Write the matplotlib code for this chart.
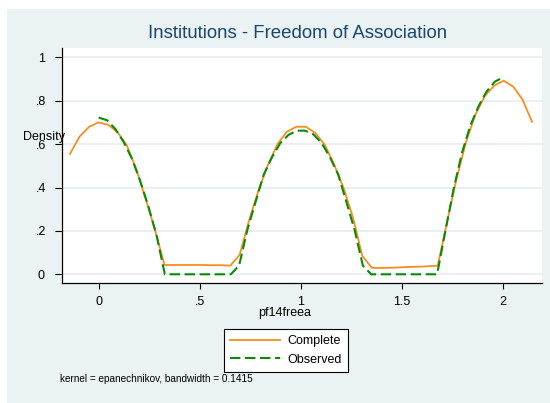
import matplotlib
matplotlib.use("Agg")
import matplotlib.pyplot as plt
from matplotlib.patches import Rectangle

# ---------------- data ----------------
complete_x = [-0.142, -0.095, -0.048, -0.002, 0.045, 0.092, 0.138, 0.185, 0.231, 0.278,
              0.325, 0.371, 0.418, 0.464, 0.511, 0.558, 0.604, 0.651, 0.697, 0.744,
              0.791, 0.837, 0.884, 0.930, 0.977, 1.024, 1.070, 1.117, 1.163, 1.210,
              1.257, 1.303, 1.350, 1.396, 1.443, 1.490, 1.536, 1.583, 1.629, 1.676,
              1.723, 1.769, 1.816, 1.862, 1.909, 1.956, 2.002, 2.049, 2.095, 2.142]
complete_y = [0.555, 0.634, 0.679, 0.700, 0.690, 0.656, 0.596, 0.487, 0.352, 0.205,
              0.043, 0.043, 0.043, 0.043, 0.043, 0.042, 0.042, 0.040, 0.090, 0.250,
              0.390, 0.505, 0.600, 0.657, 0.680, 0.680, 0.652, 0.598, 0.508, 0.400,
              0.262, 0.085, 0.030, 0.029, 0.030, 0.032, 0.034, 0.035, 0.037, 0.040,
              0.245, 0.440, 0.610, 0.735, 0.822, 0.870, 0.892, 0.865, 0.806, 0.703]

observed_x = [0.000, 0.041, 0.082, 0.122, 0.163, 0.204, 0.245, 0.286, 0.327, 0.367,
              0.408, 0.449, 0.490, 0.531, 0.571, 0.612, 0.653, 0.694, 0.735, 0.776,
              0.816, 0.857, 0.898, 0.939, 0.980, 1.020, 1.061, 1.102, 1.143, 1.184,
              1.224, 1.265, 1.306, 1.347, 1.388, 1.429, 1.469, 1.510, 1.551, 1.592,
              1.633, 1.673, 1.714, 1.755, 1.796, 1.837, 1.878, 1.918, 1.959, 2.000]
observed_y = [0.722, 0.710, 0.670, 0.612, 0.536, 0.433, 0.315, 0.180, 0.000, 0.000,
              0.000, 0.000, 0.000, 0.000, 0.000, 0.000, 0.000, 0.040, 0.205, 0.335,
              0.460, 0.540, 0.605, 0.643, 0.662, 0.662, 0.645, 0.605, 0.540, 0.460,
              0.335, 0.205, 0.040, 0.000, 0.000, 0.000, 0.000, 0.000, 0.000, 0.000,
              0.000, 0.000, 0.200, 0.395, 0.560, 0.685, 0.775, 0.843, 0.888, 0.908]

x_ticks = [0, 0.5, 1, 1.5, 2]
x_ticklabels = ["0", ".5", "1", "1.5", "2"]
y_ticks = [0, 0.2, 0.4, 0.6, 0.8, 1.0]
y_ticklabels = ["0", ".2", ".4", ".6", ".8", "1"]

series_labels = ["Complete", "Observed"]
title_text = "Institutions - Freedom of Association"
xlabel_text = "pf14freea"
ylabel_text = "Density"
note_text = "kernel = epanechnikov, bandwidth = 0.1415"

# ---------------- styling ----------------
plt.rcParams["font.family"] = ["Liberation Sans", "DejaVu Sans"]
W, H = 550, 403
BG = "#EAF2F3"
ORANGE = "#F88E1E"
GREEN = "#0A8A0A"
TITLE_C = "#1A476F"

fig = plt.figure(figsize=(W / 100, H / 100), dpi=100, facecolor="white")

# graph region background (white margin on top and left)
fig.patches.append(Rectangle((7 / W, 0), 1 - 7 / W, 1 - 9 / H,
                             transform=fig.transFigure, facecolor=BG,
                             edgecolor="none", zorder=-10))

ax = fig.add_axes([62 / W, 1 - 283 / H, (542 - 62) / W, (283 - 48) / H])
ax.set_zorder(1)
ax.set_facecolor("white")
ax.set_xlim(-0.1814, 2.1915)
ax.set_ylim(-0.0401, 1.0429)

for s in ["top", "right"]:
    ax.spines[s].set_visible(False)
for s in ["left", "bottom"]:
    ax.spines[s].set_color("black")
    ax.spines[s].set_linewidth(0.9)

ax.set_yticks(y_ticks)
ax.set_yticklabels(y_ticklabels)
ax.set_xticks(x_ticks)
ax.set_xticklabels(x_ticklabels)
ax.tick_params(axis="y", length=5, width=0.8, pad=10, labelsize=9)
ax.tick_params(axis="x", length=4.5, width=0.8, pad=5, labelsize=9)
for lab in ax.get_yticklabels():
    lab.set_horizontalalignment("center")

ax.grid(axis="y", color="#E6EEF0", linewidth=1.2)
ax.set_axisbelow(True)

l1, = ax.plot(complete_x, complete_y, color=ORANGE, lw=1.3, label=series_labels[0],
              solid_joinstyle="miter", zorder=3)
l2, = ax.plot(observed_x, observed_y, color=GREEN, lw=1.5, label=series_labels[1],
              zorder=4)
l2.set_dashes([5, 2.2])

# texts
fig.text(297.5 / W, 1 - 34 / H, title_text, ha="center", va="center",
         fontsize=13.4, color=TITLE_C)
fig.text(43.7 / W, 1 - 136.7 / H, ylabel_text, ha="center", va="center",
         fontsize=9, color="black", zorder=5)
fig.text(285 / W, 1 - 313 / H, xlabel_text, ha="center", va="center",
         fontsize=9, color="black")
fig.text(60 / W, 1 - 379 / H, note_text, ha="left", va="center",
         fontsize=7.2, color="black")

leg = fig.legend(handles=[l1, l2], labels=series_labels, loc="center",
                 bbox_to_anchor=(286 / W, 1 - 350.5 / H), fontsize=9,
                 frameon=True, fancybox=False, edgecolor="black",
                 framealpha=1, facecolor="white", handlelength=4.0,
                 handletextpad=0.55, labelspacing=0.5, borderpad=0.5)
leg.get_frame().set_linewidth(0.8)

fig.savefig("out.png", dpi=100, facecolor="white")
